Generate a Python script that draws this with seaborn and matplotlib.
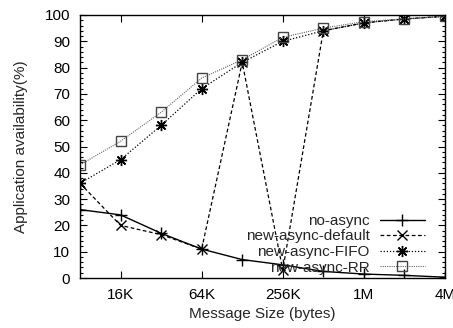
import matplotlib
matplotlib.use("Agg")
import matplotlib.pyplot as plt
from matplotlib.ticker import FixedLocator, MultipleLocator
import seaborn as sns
import pandas as pd

sizes = [8192, 16384, 32768, 65536, 131072, 262144, 524288, 1048576, 2097152, 4194304]
no_async = [26, 24, 17, 11, 7, 5, 2.5, 1.5, 1, 0.3]
new_async_default = [36, 20, 16.5, 11, 82, 3, 94, 97, 98.5, 99.5]
new_async_fifo = [36, 45, 58, 72, 82, 90, 94, 97, 98.5, 99.5]
new_async_rr = [43, 52, 63, 76, 83, 91.5, 95, 97.5, 98.5, 99.5]
tick_vals = [16384, 65536, 262144, 1048576, 4194304]
tick_labels = ["16K", "64K", "256K", "1M", "4M"]

sns.set_style("ticks")
plt.rcParams['font.family'] = ['Liberation Sans', 'DejaVu Sans']

fig = plt.figure(figsize=(4.53, 3.28), dpi=100)
ax = fig.add_axes([80/453, 50/328, 365/453, 263/328])

series = [
    ("no-async", no_async, dict(color="black", linestyle="-", marker="+", markersize=8, lw=1.0)),
    ("new-async-default", new_async_default, dict(color="black", linestyle=(0, (3, 2)), marker="x", markersize=7, lw=0.9)),
    ("new-async-FIFO", new_async_fifo, dict(color="black", linestyle=(0, (1, 1.5)), marker=(8, 2, 0), markersize=8, lw=0.9)),
    ("new-async-RR", new_async_rr, dict(color="#666666", linestyle=(0, (1, 1)), marker="s", markersize=7, lw=0.8,
                                        markerfacecolor="none")),
]
for name, vals, kw in series:
    df = pd.DataFrame({"size": sizes, "val": vals})
    edge = "#444444" if name == "new-async-RR" else "black"
    sns.lineplot(data=df, x="size", y="val", ax=ax, label=name,
                 markeredgecolor=edge, markeredgewidth=1.0, **kw)

ax.set_xscale("log", base=2)
ax.set_xlim(8192, 4194304)
ax.set_ylim(0, 100)
ax.xaxis.set_major_locator(FixedLocator(tick_vals))
ax.set_xticklabels(tick_labels)
ax.xaxis.set_minor_locator(FixedLocator([]))
ax.yaxis.set_major_locator(MultipleLocator(10))
ax.yaxis.set_minor_locator(MultipleLocator(2))
ax.tick_params(axis="both", which="both", direction="in", top=True, right=True, labelsize=11, colors="black")
ax.tick_params(which="major", length=5, width=0.8)
ax.tick_params(which="minor", length=2.5, width=0.8)
ax.tick_params(axis="y", which="major", pad=7)
ax.tick_params(axis="x", which="major", pad=7)
for s in ax.spines.values():
    s.set_color("black")
    s.set_linewidth(1.0)
ax.set_xlabel("Message Size (bytes)", fontsize=11, labelpad=4)
ax.set_ylabel("Application availability(%)", fontsize=11, labelpad=12)

leg = ax.legend(loc="lower right", frameon=False, fontsize=11, markerfirst=False,
                handlelength=2.95, handletextpad=0.65, labelspacing=0.1,
                borderaxespad=0.0, bbox_to_anchor=(0.9616, -0.01))
fig.savefig("out.png", dpi=100)
